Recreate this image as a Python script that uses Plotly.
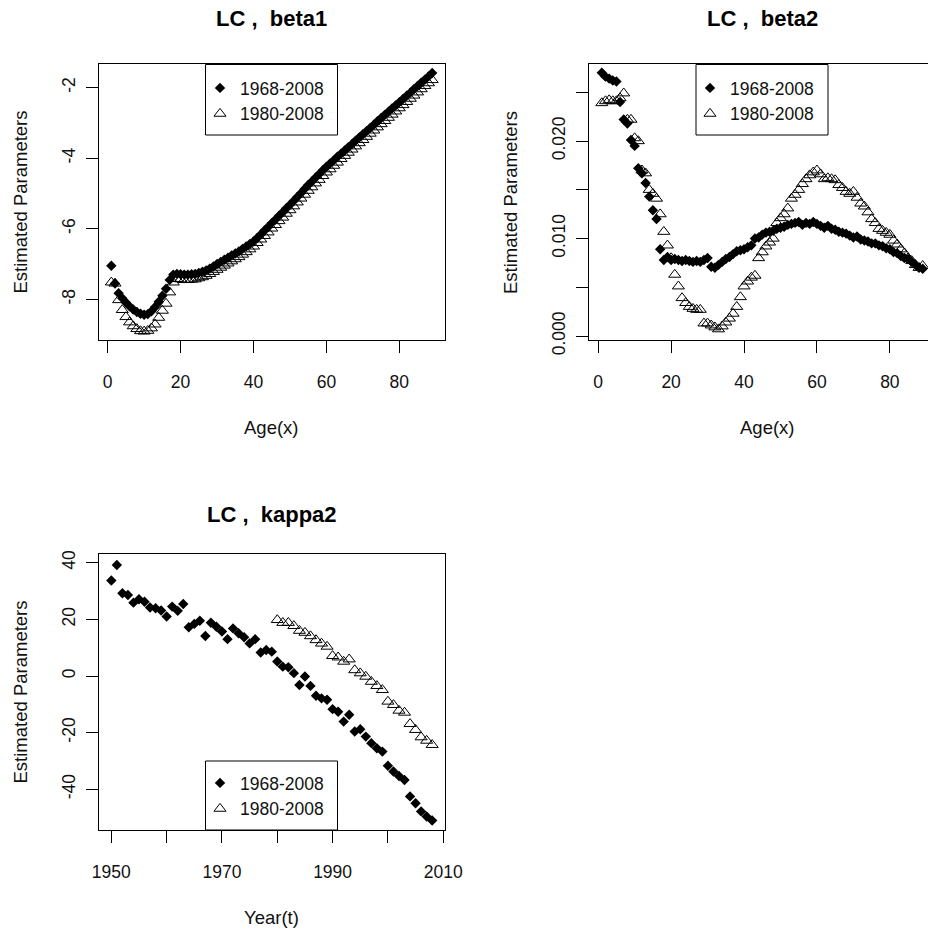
import plotly.graph_objects as go

# ---------------- data ----------------
ages = list(range(1, 90))

beta1_1968_2008 = [
    -7.05, -7.55, -7.83, -7.97, -8.09, -8.20, -8.29, -8.36, -8.41, -8.44,
    -8.42, -8.34, -8.22, -8.07, -7.90, -7.70, -7.45, -7.30, -7.28, -7.29,
    -7.30, -7.30, -7.29, -7.28, -7.25, -7.22, -7.18, -7.13, -7.07, -7.00,
    -6.94, -6.88, -6.82, -6.76, -6.70, -6.64, -6.57, -6.50, -6.43, -6.36,
    -6.26, -6.16, -6.05, -5.95, -5.84, -5.74, -5.63, -5.53, -5.42, -5.32,
    -5.21, -5.10, -4.99, -4.87, -4.76, -4.66, -4.55, -4.45, -4.34, -4.24,
    -4.15, -4.06, -3.96, -3.87, -3.78, -3.69, -3.60, -3.50, -3.41, -3.32,
    -3.23, -3.14, -3.05, -2.95, -2.86, -2.77, -2.68, -2.59, -2.50, -2.41,
    -2.32, -2.23, -2.14, -2.04, -1.95, -1.86, -1.77, -1.68, -1.58]

beta1_1980_2008 = [
    -7.52, -7.55, -8.02, -8.30, -8.50, -8.65, -8.76, -8.84, -8.90, -8.91,
    -8.89, -8.82, -8.71, -8.52, -8.32, -8.12, -7.80, -7.52, -7.42, -7.43,
    -7.45, -7.45, -7.44, -7.43, -7.40, -7.37, -7.33, -7.28, -7.22, -7.16,
    -7.10, -7.04, -6.98, -6.92, -6.86, -6.80, -6.73, -6.66, -6.58, -6.50,
    -6.40, -6.30, -6.20, -6.10, -5.99, -5.89, -5.78, -5.68, -5.57, -5.47,
    -5.36, -5.25, -5.14, -5.03, -4.92, -4.82, -4.71, -4.61, -4.50, -4.40,
    -4.31, -4.21, -4.12, -4.02, -3.93, -3.84, -3.75, -3.66, -3.57, -3.48,
    -3.39, -3.30, -3.21, -3.12, -3.03, -2.94, -2.85, -2.76, -2.67, -2.58,
    -2.49, -2.40, -2.31, -2.22, -2.13, -2.04, -1.95, -1.87, -1.78]

beta2_1968_2008 = [
    0.0270, 0.0266, 0.0264, 0.0262, 0.0261, 0.0240, 0.0222, 0.0218, 0.0201, 0.0195,
    0.0172, 0.0167, 0.0157, 0.0143, 0.0129, 0.0120, 0.0089, 0.0078, 0.0081, 0.0078,
    0.0079, 0.0078, 0.0077, 0.0078, 0.0077, 0.0076, 0.0077, 0.0076, 0.0078, 0.0080,
    0.0071, 0.0070, 0.0073, 0.0076, 0.0079, 0.0081, 0.0084, 0.0087, 0.0088, 0.0089,
    0.0091, 0.0093, 0.0100, 0.0101, 0.0104, 0.0106, 0.0107, 0.0108, 0.0110, 0.0111,
    0.0112, 0.0114, 0.0115, 0.0116, 0.0117, 0.0114, 0.0116, 0.0115, 0.0117, 0.0115,
    0.0113, 0.0111, 0.0113, 0.0110, 0.0109, 0.0107, 0.0106, 0.0105, 0.0103, 0.0101,
    0.0102, 0.0099, 0.0098, 0.0097, 0.0095, 0.0095, 0.0093, 0.0092, 0.0090, 0.0089,
    0.0086, 0.0085, 0.0082, 0.0080, 0.0079, 0.0076, 0.0073, 0.0070, 0.0069]

beta2_1980_2008 = [
    0.0239, 0.0241, 0.0242, 0.0241, 0.0241, 0.0244, 0.0249, 0.0222, 0.0222, 0.0203,
    0.0200, 0.0170, 0.0167, 0.0150, 0.0146, 0.0141, 0.0125, 0.0107, 0.0093, 0.0080,
    0.0063, 0.0051, 0.0039, 0.0034, 0.0030, 0.0028, 0.0027, 0.0027, 0.0013, 0.0013,
    0.0011, 0.0009, 0.0007, 0.0010, 0.0014, 0.0018, 0.0023, 0.0030, 0.0040, 0.0051,
    0.0056, 0.0060, 0.0062, 0.0080, 0.0086, 0.0092, 0.0096, 0.0100, 0.0116, 0.0121,
    0.0125, 0.0131, 0.0141, 0.0145, 0.0150, 0.0156, 0.0161, 0.0165, 0.0168, 0.0170,
    0.0166, 0.0161, 0.0162, 0.0161, 0.0160, 0.0155, 0.0152, 0.0148, 0.0146, 0.0148,
    0.0142, 0.0136, 0.0133, 0.0127, 0.0120, 0.0116, 0.0110, 0.0108, 0.0106, 0.0104,
    0.0098, 0.0094, 0.0089, 0.0085, 0.0080, 0.0077, 0.0073, 0.0070, 0.0072]

years_1968_2008 = list(range(1950, 2009))
kappa2_1968_2008 = [
    33.7, 39.2, 29.2, 28.6, 25.9, 27.1, 26.2, 24.2, 23.9, 23.1,
    21.0, 24.5, 23.0, 25.4, 17.2, 18.4, 19.5, 14.1, 18.8, 17.4,
    15.7, 13.0, 16.8, 15.1, 13.7, 11.5, 13.0, 8.3, 9.2, 8.6,
    5.1, 3.3, 3.1, 1.0, -3.2, -0.2, -3.5, -7.0, -7.9, -8.4,
    -11.7, -12.6, -16.1, -13.7, -19.6, -18.8, -21.4, -23.7, -25.5, -26.7,
    -31.7, -33.7, -35.3, -36.7, -42.5, -44.9, -47.8, -49.6, -51.0]

years_1980_2008 = list(range(1980, 2009))
kappa2_1980_2008 = [
    19.8, 18.8, 18.8, 17.7, 16.0, 15.3, 14.1, 12.7, 11.5, 10.4,
    7.1, 6.6, 5.1, 5.9, 2.1, 1.0, -0.2, -2.0, -3.5, -4.9,
    -9.0, -10.2, -12.2, -12.9, -16.9, -19.0, -21.6, -22.8, -24.3]

age_ticks = [0, 20, 40, 60, 80]
beta1_ticks = [-8, -6, -4, -2]
beta1_ticktext = ["-8", "-6", "-4", "-2"]
beta2_ticks = [0.000, 0.005, 0.010, 0.015, 0.020, 0.025]
beta2_ticktext = ["0.000", "", "0.010", "", "0.020", ""]
year_ticks = [1950, 1960, 1970, 1980, 1990, 2000, 2010]
year_ticktext = ["1950", "", "1970", "", "1990", "", "2010"]
kappa_ticks = [-40, -20, 0, 20, 40]
kappa_ticktext = ["-40", "-20", "0", "20", "40"]

series_names = ["1968-2008", "1980-2008"]
titles = ["LC ,\u00a0 beta1", "LC ,\u00a0 beta2", "LC ,\u00a0 kappa2"]

# ---------------- figure ----------------
W, H = 928, 932
FONT = "Liberation Sans, Arial, sans-serif"
TXT = "#111111"

def px_x(p):
    return p / W

def px_y(p):
    return 1 - p / H

fig = go.Figure()

filled = dict(symbol="diamond", size=8, color="black", line=dict(width=0))
opened = dict(symbol="triangle-up-open", size=10.5, color="black", line=dict(width=1, color="black"))

panels = [
    ("x", "y", "legend", ages, beta1_1968_2008, ages, beta1_1980_2008),
    ("x2", "y2", "legend2", ages, beta2_1968_2008, ages, beta2_1980_2008),
    ("x3", "y3", "legend3", years_1968_2008, kappa2_1968_2008, years_1980_2008, kappa2_1980_2008),
]
for xa, ya, lg, xa_vals, ya_vals, xb_vals, yb_vals in panels:
    fig.add_trace(go.Scatter(x=xa_vals, y=ya_vals, mode="markers", name=series_names[0],
                             marker=filled, xaxis=xa, yaxis=ya, legend=lg))
    fig.add_trace(go.Scatter(x=xb_vals, y=yb_vals, mode="markers", name=series_names[1],
                             marker=opened, xaxis=xa, yaxis=ya, legend=lg))

axis_common = dict(showline=True, linecolor="black", linewidth=1, ticks="outside",
                   ticklen=12, tickwidth=1, tickcolor="black", showgrid=False,
                   zeroline=False, automargin=False,
                   tickfont=dict(family=FONT, size=17.5, color=TXT))

P1 = (98.5, 445, 64, 340)
P2 = (589, 928, 64, 340)
P3 = (98.5, 445, 554, 830)

def dom(p):
    l, r, t, b = p
    return [px_x(l), min(1.0, px_x(r))], [px_y(b), px_y(t)]

d1x, d1y = dom(P1)
d2x, d2y = dom(P2)
d3x, d3y = dom(P3)

XSO = 14
YSO = 4
fig.update_layout(
    xaxis=dict(axis_common, domain=d1x, anchor="y", range=[-2.52, 92.52], mirror=True,
               tickvals=age_ticks, ticklabelstandoff=XSO),
    yaxis=dict(axis_common, domain=d1y, anchor="x", range=[-9.154, -1.328], mirror=True,
               tickvals=beta1_ticks, ticktext=beta1_ticktext, tickangle=-90, ticklabelstandoff=YSO),
    xaxis2=dict(axis_common, domain=d2x, anchor="y2", range=[-2.52, 90.46], mirror=True,
                tickvals=age_ticks, ticklabelstandoff=XSO),
    yaxis2=dict(axis_common, domain=d2y, anchor="x2", range=[-0.00041, 0.0279], mirror=False,
                tickvals=beta2_ticks, ticktext=beta2_ticktext, tickangle=-90, ticklabelstandoff=YSO),
    xaxis3=dict(axis_common, domain=d3x, anchor="y3", range=[1947.68, 2010.32], mirror=True,
                tickvals=year_ticks, ticktext=year_ticktext, ticklabelstandoff=XSO),
    yaxis3=dict(axis_common, domain=d3y, anchor="x3", range=[-54.37, 43.07], mirror=True,
                tickvals=kappa_ticks, ticktext=kappa_ticktext, tickangle=-90, ticklabelstandoff=YSO),
)

leg_common = dict(bgcolor="rgba(0,0,0,0)", borderwidth=0, xanchor="left", yanchor="top",
                  font=dict(family=FONT, size=17.5, color=TXT), itemclick=False)
fig.update_layout(
    legend=dict(leg_common, x=px_x(200), y=px_y(70)),
    legend2=dict(leg_common, x=px_x(690), y=px_y(70)),
    legend3=dict(leg_common, x=px_x(200), y=px_y(765)),
)

# legend boxes
shapes = []
for (l, t, r, b) in [(205.5, 64.5, 337.5, 135), (696, 64.5, 828, 135), (205.5, 761, 337.5, 830)]:
    shapes.append(dict(type="rect", xref="paper", yref="paper", x0=px_x(l), x1=px_x(r),
                       y0=px_y(b), y1=px_y(t), line=dict(color="black", width=1),
                       fillcolor="white", layer="above"))
fig.update_layout(shapes=shapes)

ann = []
title_pos = [(271.5, 18), (762, 18), (271.5, 514)]
for txt, (cx, cy) in zip(titles, title_pos):
    ann.append(dict(text="<b>" + txt + "</b>", x=px_x(cx), y=px_y(cy), xref="paper", yref="paper",
                    showarrow=False, xanchor="center", yanchor="middle",
                    font=dict(family=FONT, size=22, color="black")))
for txt, cx, cy in [("Age(x)", 271.5, 427), ("Age(x)", 767, 427), ("Year(t)", 271.5, 917)]:
    ann.append(dict(text=txt, x=px_x(cx), y=px_y(cy), xref="paper", yref="paper",
                    showarrow=False, xanchor="center", yanchor="middle",
                    font=dict(family=FONT, size=18.5, color=TXT)))
for cx, cy in [(19.5, 202), (510, 202), (19.5, 692)]:
    ann.append(dict(text="Estimated Parameters", x=px_x(cx), y=px_y(cy), xref="paper", yref="paper",
                    showarrow=False, xanchor="center", yanchor="middle", textangle=-90,
                    font=dict(family=FONT, size=18.5, color=TXT)))
fig.update_layout(annotations=ann)

fig.update_layout(width=W, height=H, margin=dict(l=0, r=0, t=0, b=0, autoexpand=False),
                  paper_bgcolor="white", plot_bgcolor="white", showlegend=True,
                  font=dict(family=FONT, color=TXT))

fig.write_html("out.html", config={"displayModeBar": False})
